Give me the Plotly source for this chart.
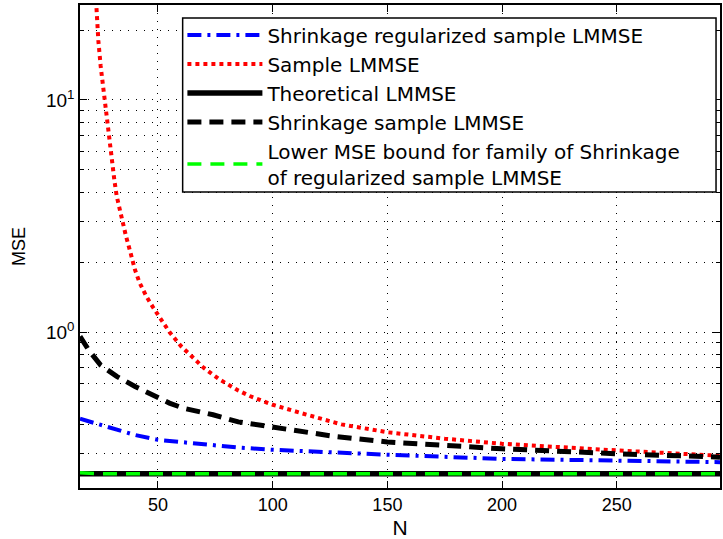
import plotly.graph_objects as go

# ---- data ----
N_red = [22, 23, 24, 25, 26, 27, 28, 29, 30, 31, 32, 34, 36, 38, 40, 42, 45, 48, 50,
         55, 60, 65, 70, 77, 85, 90, 100, 115, 130, 150, 175, 200, 225, 250, 275, 295]
sample_lmmse = [40, 25.6, 18, 14, 11.5, 9.5, 7.6, 6.3, 5.2, 4.5, 3.85, 3.1, 2.6, 2.2, 1.85,
                1.63, 1.42, 1.27, 1.19, 1.0, 0.87, 0.78, 0.70, 0.623, 0.56, 0.53, 0.486,
                0.44, 0.40, 0.37, 0.347, 0.330, 0.318, 0.309, 0.300, 0.293]

N_black = [16, 20, 25, 32, 40, 47, 55, 61, 74, 85, 100, 127, 150, 175, 200, 250, 295]
shrink_sample = [0.957, 0.83, 0.72, 0.644, 0.583, 0.537, 0.494, 0.47, 0.44, 0.41, 0.388,
                 0.355, 0.336, 0.324, 0.314, 0.299, 0.289]

N_blue = [16, 24, 32, 40, 50, 68, 85, 100, 125, 150, 200, 250, 295]
shrink_reg = [0.423, 0.40, 0.379, 0.36, 0.343, 0.329, 0.318, 0.311, 0.302, 0.296, 0.284,
              0.280, 0.275]

N_flat = [16, 20, 25, 50, 100, 150, 200, 250, 295]
theoretical = [0.245, 0.245, 0.245, 0.245, 0.245, 0.245, 0.245, 0.245, 0.245]
lower_bound = [0.2475, 0.2458, 0.2452, 0.245, 0.245, 0.245, 0.245, 0.245, 0.245]

names = ["Shrinkage regularized sample LMMSE", "Sample LMMSE", "Theoretical LMMSE",
         "Shrinkage sample LMMSE",
         "Lower MSE bound for family of Shrinkage<br>of regularized sample LMMSE"]

x_ticks = [50, 100, 150, 200, 250]
y_ticks = [1, 10]
y_ticktext = ["10<sup>0</sup>", "10<sup>1</sup>"]
y_minor = [0.3, 0.4, 0.5, 0.6, 0.7, 0.8, 0.9, 2, 3, 4, 5, 6, 7, 8, 9, 20]

FONT = "Liberation Sans, Arial, Helvetica, sans-serif"
LEGEND_FONT = "DejaVu Sans, Liberation Sans, sans-serif"
GRID = dict(showgrid=True, gridcolor="black", griddash="1px,7px", gridwidth=1)

fig = go.Figure()
fig.add_trace(go.Scatter(x=N_blue, y=shrink_reg, mode="lines", name=names[0], legendgroup="a",
                         line=dict(color="#0000ff", width=4, dash="14px,6px,3px,6px")))
fig.add_trace(go.Scatter(x=N_red, y=sample_lmmse, mode="lines", name=names[1], legendgroup="b",
                         line=dict(color="#ff0000", width=4, dash="4px,4px")))
fig.add_trace(go.Scatter(x=N_flat, y=theoretical, mode="lines", name=names[2], legendgroup="c",
                         line=dict(color="black", width=5.5)))
fig.add_trace(go.Scatter(x=N_black, y=shrink_sample, mode="lines", name=names[3], legendgroup="d",
                         line=dict(color="black", width=5, dash="14px,8px")))
fig.add_trace(go.Scatter(x=N_flat, y=lower_bound, mode="lines", name=names[4], legendgroup="e",
                         line=dict(color="#00ff00", width=3.5, dash="14px,9px")))

# legend frame (MATLAB-style box, wider than its text)
fig.add_shape(type="rect", xref="paper", yref="paper",
              x0=0.1604, x1=0.9938, y0=0.6128, y1=0.9731,
              fillcolor="white", line=dict(color="black", width=1.5), layer="above")

fig.update_layout(
    width=723, height=539,
    margin=dict(l=80, r=1, t=5, b=51),
    paper_bgcolor="white", plot_bgcolor="white",
    font=dict(family=FONT, size=17, color="black"),
    showlegend=True,
    legend=dict(x=0.16, y=0.9783, xanchor="left", yanchor="top",
                bgcolor="rgba(0,0,0,0)", borderwidth=0,
                font=dict(family=LEGEND_FONT, size=20, color="black"),
                itemwidth=75, tracegroupgap=0,
                traceorder="normal"),
)
fig.update_xaxes(
    range=[16, 295], tickvals=x_ticks, ticks="inside", ticklen=7, tickcolor="black",
    showline=True, linecolor="black", linewidth=1.5, mirror="ticks",
    zeroline=False, **GRID,
    title=dict(text="N", font=dict(size=21), standoff=6),
    tickfont=dict(size=18),
)
fig.update_yaxes(
    type="log", range=[-0.672, 1.409],
    tickvals=y_ticks, ticktext=y_ticktext, ticks="inside", ticklen=7, tickcolor="black",
    showline=True, linecolor="black", linewidth=1.5, mirror="ticks",
    minor=dict(tickvals=y_minor, ticks="inside", ticklen=4, tickcolor="black", **GRID),
    zeroline=False, **GRID,
    title=dict(text="MSE", font=dict(size=18), standoff=16),
    tickfont=dict(size=19),
)

fig.write_html("out.html")
